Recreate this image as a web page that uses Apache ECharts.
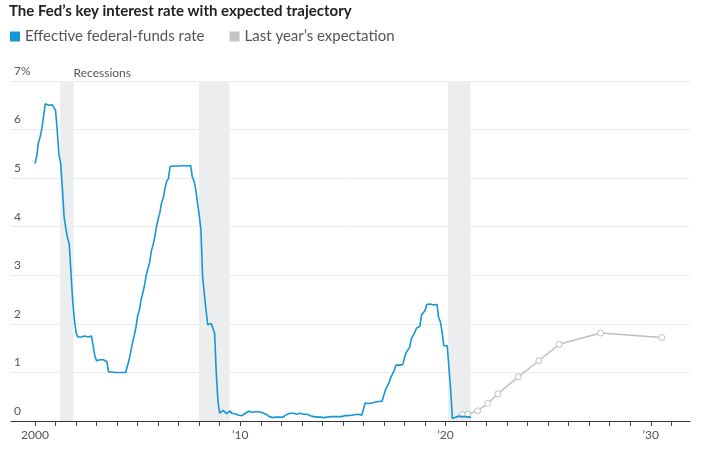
<!DOCTYPE html>
<html><head><meta charset="utf-8">
<script src="https://cdn.jsdelivr.net/npm/echarts@6/dist/echarts.min.js"></script>
<style>html,body{margin:0;padding:0;background:#fff}#c{width:703px;height:475px}</style>
</head><body><div id="c"></div>
<script>
const titleText = 'The Fed\u2019s key interest rate with expected trajectory';
const seriesNames = ['Effective federal-funds rate', 'Last year\u2019s expectation'];
// monthly averages, first value = Dec 1999, each plotted at its month end
const fedStartYear = 2000;
const fedRates = [
  5.30,
  5.45, 5.73, 5.85, 6.02, 6.27, 6.53, 6.54, 6.50, 6.52, 6.51, 6.51, 6.40,
  5.98, 5.49, 5.31, 4.80, 4.21, 3.97, 3.77, 3.65, 3.07, 2.49, 2.09, 1.82,
  1.73, 1.74, 1.73, 1.75, 1.75, 1.75, 1.73, 1.74, 1.75, 1.75, 1.34, 1.24,
  1.24, 1.26, 1.25, 1.26, 1.26, 1.22, 1.01, 1.03, 1.01, 1.01, 1.00, 0.98,
  1.00, 1.01, 1.00, 1.00, 1.00, 1.03, 1.26, 1.43, 1.61, 1.76, 1.93, 2.16,
  2.28, 2.50, 2.63, 2.79, 3.00, 3.04, 3.26, 3.50, 3.62, 3.78, 4.00, 4.16,
  4.29, 4.49, 4.59, 4.79, 4.94, 4.99, 5.24, 5.25, 5.25, 5.25, 5.25, 5.24,
  5.25, 5.26, 5.26, 5.25, 5.25, 5.25, 5.26, 5.02, 4.94, 4.76, 4.49, 4.24,
  3.94, 2.98, 2.61, 2.28, 1.98, 2.00, 2.01, 2.00, 1.81, 0.97, 0.39, 0.16,
  0.15, 0.22, 0.18, 0.15, 0.18, 0.21, 0.16, 0.16, 0.15, 0.12, 0.12, 0.12,
  0.11, 0.13, 0.16, 0.20, 0.20, 0.18, 0.18, 0.19, 0.19, 0.19, 0.19, 0.18,
  0.17, 0.16, 0.14, 0.10, 0.09, 0.09, 0.07, 0.10, 0.08, 0.07, 0.08, 0.07,
  0.08, 0.10, 0.13, 0.14, 0.16, 0.16, 0.16, 0.13, 0.14, 0.16, 0.16, 0.16,
  0.14, 0.15, 0.14, 0.15, 0.11, 0.09, 0.09, 0.08, 0.08, 0.09, 0.08, 0.09,
  0.07, 0.07, 0.08, 0.09, 0.09, 0.10, 0.09, 0.09, 0.09, 0.09, 0.09, 0.12,
  0.11, 0.11, 0.11, 0.12, 0.12, 0.13, 0.13, 0.14, 0.14, 0.12, 0.12, 0.24,
  0.37, 0.38, 0.36, 0.37, 0.37, 0.38, 0.39, 0.40, 0.40, 0.40, 0.41, 0.54,
  0.65, 0.66, 0.79, 0.90, 0.91, 1.04, 1.15, 1.16, 1.15, 1.15, 1.16, 1.30,
  1.41, 1.42, 1.51, 1.69, 1.70, 1.82, 1.91, 1.91, 1.95, 2.19, 2.20, 2.27,
  2.40, 2.40, 2.41, 2.42, 2.39, 2.38, 2.40, 2.13, 2.04, 1.83, 1.55, 1.55,
  1.55, 1.58, 0.65, 0.05, 0.05, 0.08, 0.09, 0.10, 0.09, 0.09, 0.09, 0.09,
  0.09, 0.08, 0.07
];
const expectYears = [2020.81, 2021.08, 2021.56, 2022.05, 2022.55, 2023.54, 2024.55, 2025.54, 2027.55, 2030.54];
const expectRates = [0.13, 0.14, 0.21, 0.36, 0.56, 0.91, 1.24, 1.58, 1.81, 1.72];
const recessionStarts = [2001.23, 2007.99, 2020.13];
const recessionEnds = [2001.88, 2009.48, 2021.22];
const recessionLabel = 'Recessions';
const yMin = 0, yMax = 7;
const xTickFirst = 2000, xTickLast = 2031;
const xTickLabels = {2000: '2000', 2010: '\u201910', 2020: '\u201920', 2030: '\u201930'};
const yTopLabel = '7%';

const FONT = 'Lato';
const blue = '#1597d5';
const grey = '#bfbfbf';

const chart = echarts.init(document.getElementById('c'), null, {renderer: 'canvas'});

const fedData = fedRates.map((v, i) => [fedStartYear + i / 12, v]);
const expData = expectYears.map((y, i) => [y, expectRates[i]]);
const recAreas = recessionStarts.map((s, i) => {
  const first = {xAxis: s};
  if (i === 0) {
    first.label = {show: true, formatter: recessionLabel};
  }
  return [first, {xAxis: recessionEnds[i]}];
});

// pixel scale shared by both grids (same years-per-pixel)
const pxPerYear = (671.3 - 35) / (xTickLast - xTickFirst);
const outerMin = xTickFirst - (35 - 11) / pxPerYear;
const outerMax = xTickFirst + (690 - 35) / pxPerYear;

chart.setOption({
  animation: false,
  textStyle: {fontFamily: FONT},
  title: {
    text: titleText, left: 9, top: 4, padding: 0,
    textStyle: {fontFamily: FONT, fontSize: 15, fontWeight: 'bold', color: '#222'}
  },
  legend: {
    data: [
      {name: seriesNames[0], itemStyle: {color: blue, borderWidth: 0}},
      {name: seriesNames[1], itemStyle: {color: '#c4c4c4', borderWidth: 0}}
    ],
    left: 10, top: 29, padding: 0,
    icon: 'rect', itemWidth: 10, itemHeight: 10, itemGap: 25,
    textStyle: {fontFamily: FONT, fontSize: 15, color: '#555', padding: [0, 0, 0, 0]}
  },
  grid: [
    {left: 11, right: 13, top: 81, bottom: 54},
    {left: 35, right: 703 - 671.3, top: 81, bottom: 54}
  ],
  xAxis: [
    {gridIndex: 0, type: 'value', min: outerMin, max: outerMax,
     axisLine: {show: true, lineStyle: {color: '#333', width: 1}},
     axisTick: {show: false}, axisLabel: {show: false}, splitLine: {show: false}},
    {gridIndex: 1, type: 'value', min: xTickFirst, max: xTickLast, interval: 1,
     axisLine: {show: false},
     axisTick: {show: true, length: 5, lineStyle: {color: '#444'}},
     axisLabel: {show: true, margin: 8, color: '#555', fontSize: 12, fontFamily: FONT,
       formatter: v => xTickLabels[Math.round(v)] || ''},
     splitLine: {show: false}}
  ],
  yAxis: [
    {gridIndex: 0, type: 'value', min: yMin, max: yMax, interval: 1,
     axisLine: {show: false}, axisTick: {show: false},
     splitLine: {show: true, lineStyle: {color: '#ebebeb', width: 1}},
     axisLabel: {inside: true, margin: 3, verticalAlign: 'bottom', padding: [0, 0, 4, 0],
       color: '#555', fontSize: 12, fontFamily: FONT,
       formatter: v => v === yMax ? yTopLabel : String(v)}},
    {gridIndex: 1, type: 'value', min: yMin, max: yMax, show: false}
  ],
  series: [
    {
      name: seriesNames[1], type: 'line', xAxisIndex: 1, yAxisIndex: 1,
      data: expData, clip: false, z: 3,
      symbol: 'circle', symbolSize: 6, showSymbol: true,
      itemStyle: {color: '#fff', borderColor: grey, borderWidth: 1},
      lineStyle: {color: grey, width: 1.5}
    },
    {
      name: seriesNames[0], type: 'line', xAxisIndex: 1, yAxisIndex: 1,
      data: fedData, clip: false, z: 4,
      showSymbol: false, symbol: 'none',
      lineStyle: {color: blue, width: 1.6},
      itemStyle: {color: blue},
      markArea: {
        silent: true,
        itemStyle: {color: '#ecedef'},
        label: {show: false, position: ['100%', -2], align: 'left', verticalAlign: 'bottom',
          color: '#555', fontSize: 12, fontFamily: FONT},
        data: recAreas
      }
    }
  ]
});
</script></body></html>
